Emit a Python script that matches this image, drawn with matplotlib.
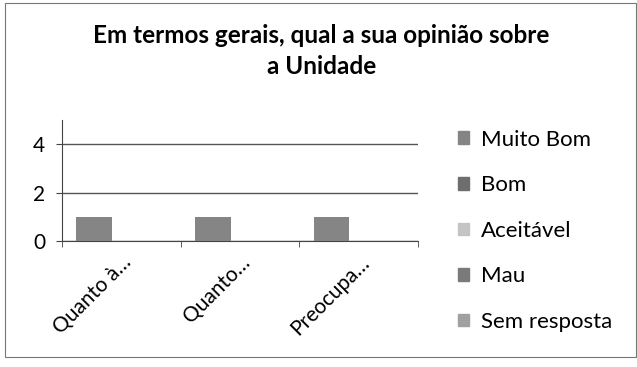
import matplotlib
matplotlib.use("Agg")
import matplotlib.pyplot as plt
import matplotlib.patches as mpatches
import numpy as np

plt.rcParams["font.family"] = ["Lato", "DejaVu Sans"]

# data
categories = ["Quanto à…", "Quanto…", "Preocupa…"]
series_names = ["Muito Bom", "Bom", "Aceitável", "Mau", "Sem resposta"]
muito_bom = [1, 1, 1]
bom = [0, 0, 0]
aceitavel = [0, 0, 0]
mau = [0, 0, 0]
sem_resposta = [0, 0, 0]
series_values = [muito_bom, bom, aceitavel, mau, sem_resposta]
colors = ["#858585", "#6e6e6e", "#c4c4c4", "#7a7a7a", "#a0a0a0"]

fig = plt.figure(figsize=(6.37, 3.67), dpi=100)
ax = fig.add_axes([0.0973, 0.343, 0.559, 0.330])

x = np.arange(len(categories))
w = 0.30
handles = []
for i, (name, vals) in enumerate(zip(series_names, series_values)):
    ax.bar(x - 0.228 + i * w, vals, width=w, color=colors[i], label=name, zorder=3)
    handles.append(mpatches.Patch(color=colors[i], label=name))

ax.set_xlim(-0.5, len(categories) - 0.5)
ax.set_ylim(0, 5)
ax.set_yticks([0, 2, 4])
ax.grid(axis="y", color="#555555", linewidth=1.0, zorder=0)
ax.set_axisbelow(True)

for s in ["top", "right"]:
    ax.spines[s].set_visible(False)
ax.spines["left"].set_color("#444444")
ax.spines["bottom"].set_color("#444444")

ax.set_xticks(x)
ax.set_xticklabels(categories, rotation=45, ha="right", rotation_mode="anchor", fontsize=15)
ax.set_xticks(np.arange(-0.5, len(categories), 1), minor=True)
ax.tick_params(axis="x", which="major", length=0, pad=8)
ax.tick_params(axis="x", which="minor", length=4, color="#444444")
ax.tick_params(axis="y", length=4, color="#444444", labelsize=15, pad=8)

fig.suptitle("Em termos gerais, qual a sua opinião sobre\na Unidade",
             x=0.505, y=0.935, fontsize=17.5, fontweight="bold", linespacing=1.45)

fig.legend(handles=handles, loc="upper left", bbox_to_anchor=(0.705, 0.671),
           frameon=False, fontsize=16, handlelength=0.5, handleheight=0.5,
           handletextpad=0.55, labelspacing=1.15, borderaxespad=0)

# chart border
fig.patches.append(mpatches.Rectangle((0.008, 0.027), 0.99, 0.965, transform=fig.transFigure,
                                      fill=False, edgecolor="#777777", linewidth=0.8))

fig.savefig("out.png", dpi=100)
